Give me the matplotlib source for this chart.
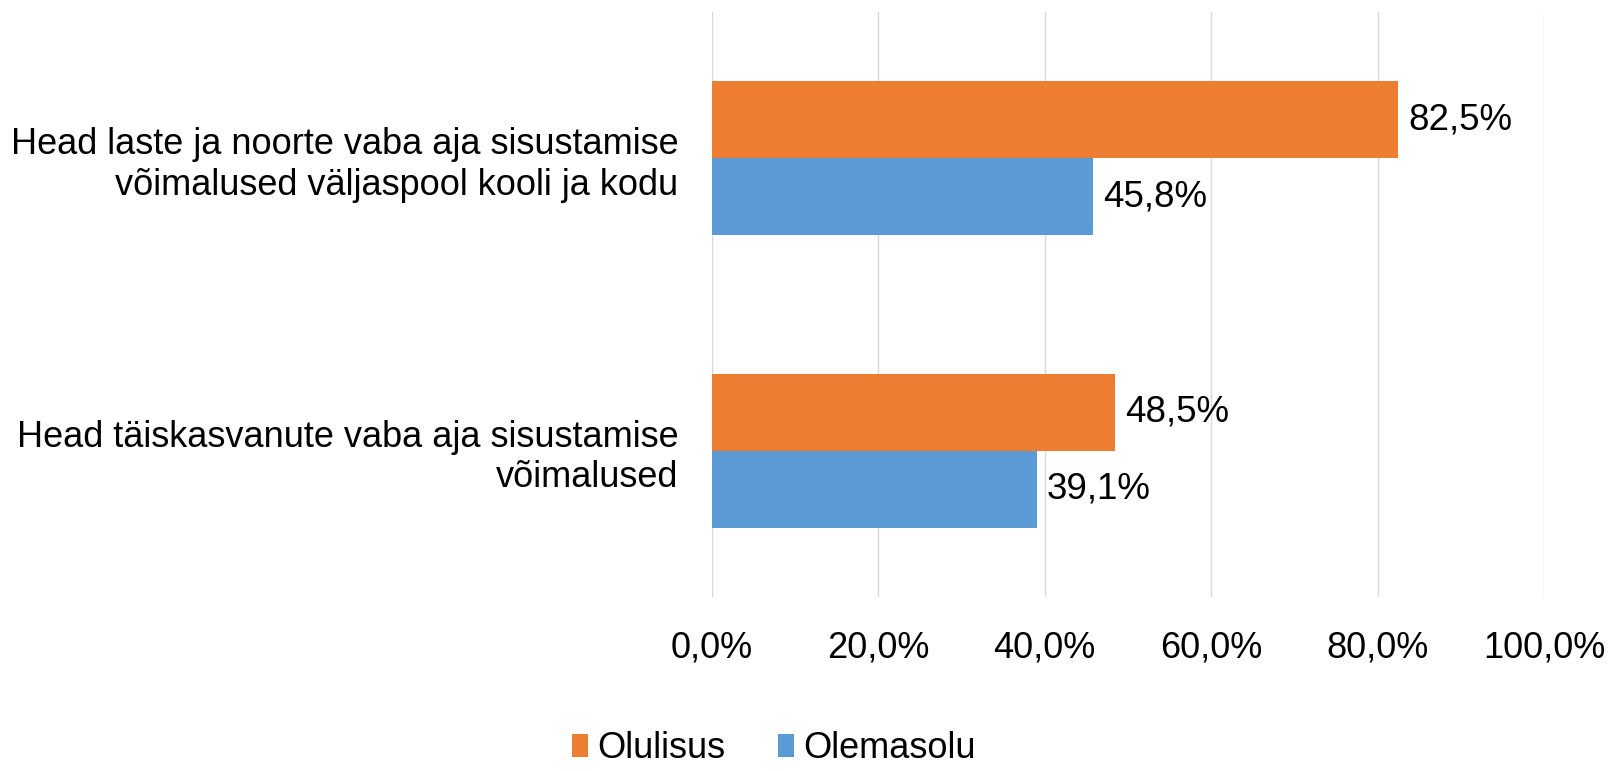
import matplotlib.pyplot as plt
import numpy as np

plt.rcParams['font.family'] = ['Liberation Sans', 'DejaVu Sans']

# data
categories = ['Head laste ja noorte vaba aja sisustamise\nvõimalused väljaspool kooli ja kodu',
              'Head täiskasvanute vaba aja sisustamise\nvõimalused']
olulisus = [82.5, 48.5]
olemasolu = [45.8, 39.1]
series_names = ['Olulisus', 'Olemasolu']
xticks = [0, 20, 40, 60, 80, 100]

c_orange = '#ED7D31'
c_blue = '#5B9BD5'
fs = 26

fig = plt.figure(figsize=(16.14, 7.71), dpi=100)
ax = fig.add_axes([0.4411, 0.2257, 0.5155, 0.7587])

y = np.arange(len(categories))
h = 0.263
b1 = ax.barh(y - h / 2, olulisus, height=h, color=c_orange, label=series_names[0], zorder=3)
b2 = ax.barh(y + h / 2, olemasolu, height=h, color=c_blue, label=series_names[1], zorder=3)

for bars in (b1, b2):
    for r in bars:
        v = r.get_width()
        ax.annotate(f'{v:.1f}%'.replace('.', ','), (v, r.get_y() + r.get_height() / 2),
                    xytext=(7, 0), textcoords='offset points', va='center', ha='left',
                    fontsize=26.5, color='#000000')

ax.set_ylim(1.5, -0.5)
ax.set_xlim(0, 100)
ax.set_yticks(y)
ax.set_yticklabels(categories, fontsize=fs, ha='right', linespacing=1.2)
ax.set_xticks(xticks)
ax.set_xticklabels([f'{t:.1f}%'.replace('.', ',') for t in xticks], fontsize=fs)
ax.tick_params(axis='both', length=0)
ax.tick_params(axis='x', pad=24)
ax.tick_params(axis='y', pad=24)
ax.grid(axis='x', color='#D9D9D9', linewidth=1, zorder=0)
for s in ax.spines.values():
    s.set_visible(False)

fig.legend(loc='lower center', bbox_to_anchor=(0.4795, -0.036), ncol=2, frameon=False,
           fontsize=fs, handlelength=0.45, handleheight=0.6, handletextpad=0.25, columnspacing=1.45)

fig.savefig('out.png', dpi=100)
